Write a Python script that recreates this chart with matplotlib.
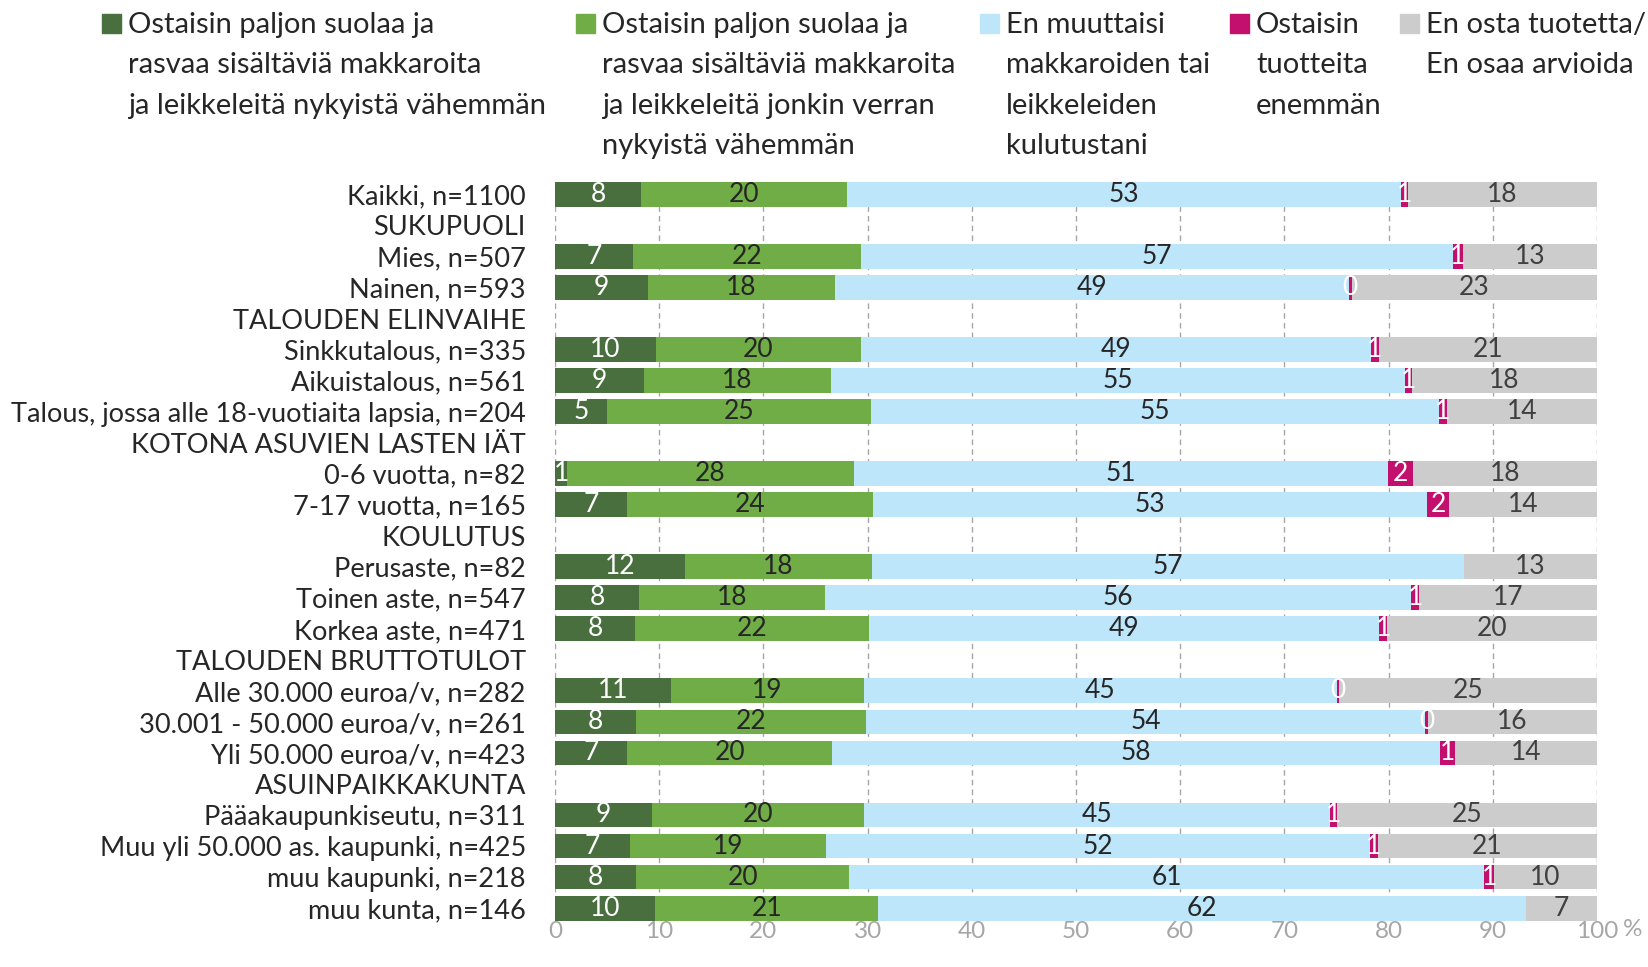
import matplotlib.pyplot as plt
import numpy as np
from matplotlib.patches import Rectangle

plt.rcParams['font.family'] = ['Lato', 'DejaVu Sans']

nan = np.nan

categories = [
    "Kaikki, n=1100", "SUKUPUOLI", "Mies, n=507", "Nainen, n=593",
    "TALOUDEN ELINVAIHE", "Sinkkutalous, n=335", "Aikuistalous, n=561",
    "Talous, jossa alle 18-vuotiaita lapsia, n=204", "KOTONA ASUVIEN LASTEN IÄT",
    "0-6 vuotta, n=82", "7-17 vuotta, n=165", "KOULUTUS", "Perusaste, n=82",
    "Toinen aste, n=547", "Korkea aste, n=471", "TALOUDEN BRUTTOTULOT",
    "Alle 30.000 euroa/v, n=282", "30.001 - 50.000 euroa/v, n=261",
    "Yli 50.000 euroa/v, n=423", "ASUINPAIKKAKUNTA", "Pääakaupunkiseutu, n=311",
    "Muu yli 50.000 as. kaupunki, n=425", "muu kaupunki, n=218", "muu kunta, n=146",
]

series_names = [
    "Ostaisin paljon suolaa ja\nrasvaa sisältäviä makkaroita\nja leikkeleitä nykyistä vähemmän",
    "Ostaisin paljon suolaa ja\nrasvaa sisältäviä makkaroita\nja leikkeleitä jonkin verran\nnykyistä vähemmän",
    "En muuttaisi\nmakkaroiden tai\nleikkeleiden\nkulutustani",
    "Ostaisin\ntuotteita\nenemmän",
    "En osta tuotetta/\nEn osaa arvioida",
]

# bar widths (%), header rows are nan
less_much = [8.25, nan, 7.5, 8.94, nan, 9.69, 8.53, 5.0, nan, 1.16, 6.95, nan,
             12.5, 8.05, 7.71, nan, 11.13, 7.81, 6.95, nan, 9.35, 7.19, 7.81, 9.62]
less_some = [19.8, nan, 21.85, 17.94, nan, 19.66, 17.94, 25.31, nan, 27.5, 23.53, nan,
             17.91, 17.84, 22.39, nan, 18.49, 22.02, 19.63, nan, 20.27, 18.8, 20.44, 21.37]
no_change = [53.1, nan, 56.84, 49.33, nan, 48.95, 55.1, 54.56, nan, 51.31, 53.17, nan,
             56.82, 56.27, 49.0, nan, 45.41, 53.68, 58.39, nan, 44.75, 52.24, 60.93, 62.16]
buy_more = [0.7, nan, 0.94, 0.24, nan, 0.76, 0.69, 0.7, nan, 2.33, 2.19, nan,
            0, 0.76, 0.73, nan, 0.17, 0.25, 1.4, nan, 0.69, 0.73, 0.94, 0]
dont_buy = [18.2, nan, 12.87, 23.55, nan, 20.94, 17.74, 14.43, nan, 17.7, 14.16, nan,
            12.77, 17.08, 20.17, nan, 24.8, 16.24, 13.63, nan, 24.94, 21.04, 9.88, 6.85]

# printed labels
lab_much = ["8", "", "7", "9", "", "10", "9", "5", "", "1", "7", "", "12", "8", "8", "",
            "11", "8", "7", "", "9", "7", "8", "10"]
lab_some = ["20", "", "22", "18", "", "20", "18", "25", "", "28", "24", "", "18", "18", "22", "",
            "19", "22", "20", "", "20", "19", "20", "21"]
lab_none = ["53", "", "57", "49", "", "49", "55", "55", "", "51", "53", "", "57", "56", "49", "",
            "45", "54", "58", "", "45", "52", "61", "62"]
lab_more = ["1", "", "1", "0", "", "1", "1", "1", "", "2", "2", "", "", "1", "1", "",
            "0", "0", "1", "", "1", "1", "1", ""]
lab_dont = ["18", "", "13", "23", "", "21", "18", "14", "", "18", "14", "", "13", "17", "20", "",
            "25", "16", "14", "", "25", "21", "10", "7"]

colors = ['#4a6f3f', '#70ad47', '#bde6fa', '#c30f6e', '#cccccc']
text_colors = ['white', '#262626', '#262626', 'white', '#404040']

W, H = 1648, 967
fig = plt.figure(figsize=(W / 100, H / 100), dpi=100)
ax = fig.add_axes([555 / W, 1 - 920.5 / H, 1042 / W, (920.5 - 182) / H])

y = np.arange(len(categories))
data = [less_much, less_some, no_change, buy_more, dont_buy]
labels = [lab_much, lab_some, lab_none, lab_more, lab_dont]
left = np.zeros(len(categories))
for vals, labs, c, tc in zip(data, labels, colors, text_colors):
    v = np.nan_to_num(np.array(vals, dtype=float))
    bars = ax.barh(y, v, left=left, height=0.8, color=c, zorder=2)
    ax.bar_label(bars, labels=labs, label_type='center', color=tc, fontsize=19)
    left += v

ax.set_xlim(0, 100)
ax.set_ylim(len(categories) - 0.6, -0.4)
ax.set_xticks(range(0, 101, 10))
ax.set_yticks(y)
ax.set_yticklabels(categories, fontsize=19.5, color='#262626')
ax.tick_params(axis='y', length=0, pad=21)
ax.tick_params(axis='x', length=0, labelsize=17.5, labelcolor='#a6a6a6', pad=0)
ax.grid(axis='x', linestyle=(0, (4, 3)), color='#a6a6a6', lw=1, zorder=0)
ax.set_axisbelow(True)
for s in ax.spines.values():
    s.set_visible(False)
fig.text(1633 / W, 1 - 929 / H, "%", fontsize=17.5, color='#a6a6a6', ha='center', va='center')

# legend drawn by hand so the squares sit at the first text line
leg_x = [102, 576, 980, 1230, 1400]
for x0, name, c in zip(leg_x, series_names, colors):
    fig.patches.append(Rectangle((x0 / W, 1 - 33 / H), 19 / W, 19 / H,
                                 transform=fig.transFigure, color=c))
    fig.text((x0 + 26) / W, 1 - 12 / H, name, fontsize=21, color='#262626',
             ha='left', va='top', linespacing=1.69)

fig.savefig('out.png', dpi=100)
